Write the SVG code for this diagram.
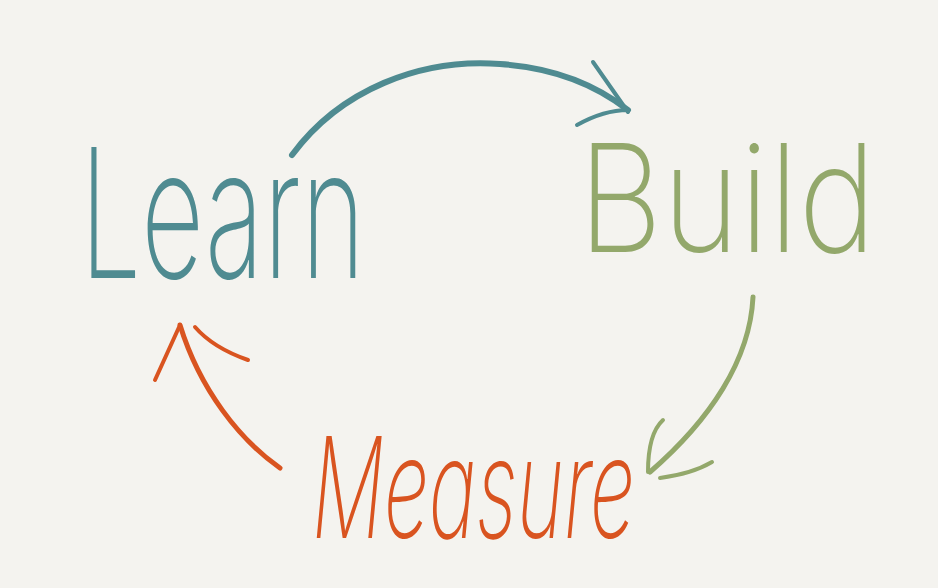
<svg xmlns="http://www.w3.org/2000/svg" width="938" height="588" viewBox="0 0 938 588">
<style>
.lbl{font-family:"Inter","Lato","Open Sans","Liberation Sans",sans-serif;font-weight:200;}
.teal{fill:#4f8b91;}
.green{fill:#93a86b;}
.orange{fill:#d95420;}
.c{fill:none;stroke-linecap:round;stroke-linejoin:round;}
.ct{stroke:#4f8b91;}
.cg{stroke:#93a86b;}
.co{stroke:#d95420;}
</style>
<rect width="938" height="588" fill="#f4f3ef"/>
<g id="learn">
<text class="lbl teal" x="80" y="278" font-size="180" textLength="285" lengthAdjust="spacingAndGlyphs">Learn</text>
</g>
<g id="build">
<text class="lbl green" x="578" y="252" font-size="150" textLength="298" lengthAdjust="spacingAndGlyphs">Build</text>
</g>
<g id="measure">
<text class="lbl orange" x="312" y="538" font-size="140" font-style="italic" textLength="323" lengthAdjust="spacingAndGlyphs">Measure</text>
</g>
<g id="connectors">
<path class="c ct" stroke-width="6" d="M292,155 C340,90 420,58 500,64 C560,68 600,88 628,110"/>
<path class="c ct" stroke-width="4" d="M593,62 L628,112 M577,125 C595,115 610,110 628,110"/>
<path class="c cg" stroke-width="5" d="M753,297 C750,360 710,420 650,472"/>
<path class="c cg" stroke-width="4" d="M663,420 C652,430 648,450 648,472 M712,462 C695,472 675,476 660,478"/>
<path class="c co" stroke-width="5" d="M280,468 C240,440 200,390 180,325"/>
<path class="c co" stroke-width="4" d="M155,380 L180,325 M195,327 C208,342 225,352 248,360"/>
</g>
</svg>
